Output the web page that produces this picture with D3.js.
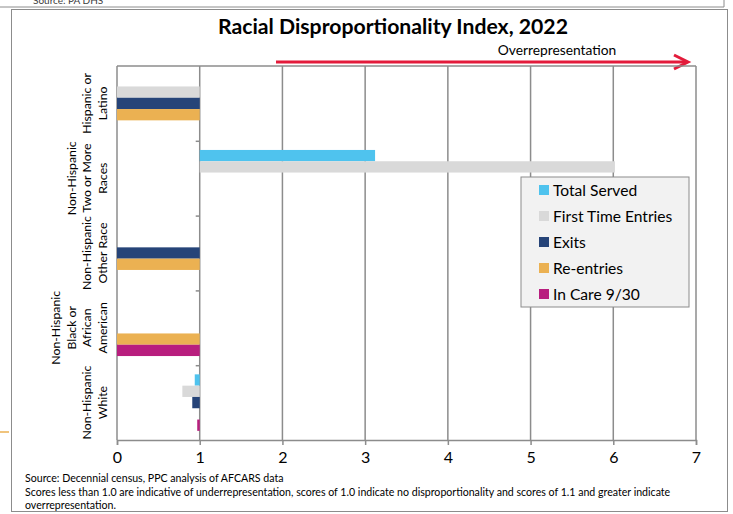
<!DOCTYPE html>
<html>
<head>
<meta charset="utf-8">
<script src="https://cdn.jsdelivr.net/npm/d3@7"></script>
<style>
  body { margin: 0; background: #fff; }
  svg { display: block; font-family: Lato, "Open Sans", sans-serif; }
</style>
</head>
<body>
<svg id="chart"></svg>
<script>
const chartSize = { width: 733, height: 514 };
const plot = { left: 117, right: 696, top: 66, bottom: 440 };

const categories = [
  "Hispanic or Latino",
  "Non-Hispanic Two or More Races",
  "Non-Hispanic Other Race",
  "Non-Hispanic Black or African American",
  "Non-Hispanic White"
];
const categoryLines = [
  ["Hispanic or", "Latino"],
  ["Non-Hispanic", "Two or More", "Races"],
  ["Non-Hispanic", "Other Race"],
  ["Non-Hispanic", "Black or", "African", "American"],
  ["Non-Hispanic", "White"]
];

const seriesNames = ["Total Served", "First Time Entries", "Exits", "Re-entries", "In Care 9/30"];
const seriesColors = ["#4fc3ee", "#d9d9d9", "#264478", "#ebb152", "#b81e7e"];

// null = no bar shown
const totalServed = [null, 3.12, null, null, 0.94];
const firstTimeEntries = [0, 6.02, null, null, 0.79];
const exits = [0, null, 0, null, 0.91];
const reEntries = [0, null, 0, 0, null];
const inCare = [null, null, null, 0, 0.97];
const seriesValues = [totalServed, firstTimeEntries, exits, reEntries, inCare];

const xTicks = [0, 1, 2, 3, 4, 5, 6, 7];
const crossAt = 1;

const svg = d3.select("#chart")
  .attr("width", chartSize.width)
  .attr("height", chartSize.height);

// outer frames
svg.append("line")
  .attr("x1", 0).attr("x2", 724).attr("y1", 7).attr("y2", 7)
  .attr("stroke", "#8c8c8c");
svg.append("line")
  .attr("x1", 724).attr("x2", 724).attr("y1", 0).attr("y2", 7)
  .attr("stroke", "#8c8c8c");
svg.append("text")
  .attr("x", 33).attr("y", 4)
  .attr("font-size", 10)
  .attr("fill", "#404040")
  .text("Source: PA DHS");
svg.append("rect")
  .attr("x", 11.5).attr("y", 9.5)
  .attr("width", 716).attr("height", 502)
  .attr("fill", "#fff")
  .attr("stroke", "#8c8c8c");
svg.append("line")
  .attr("x1", 0).attr("x2", 9).attr("y1", 432).attr("y2", 432)
  .attr("stroke", "#ebb152").attr("stroke-width", 1.5);

const x = d3.scaleLinear().domain([0, 7]).range([plot.left, plot.right]);
const y = d3.scaleBand().domain(categories).range([plot.top, plot.bottom]).paddingInner(0);
const ySeries = d3.scaleBand()
  .domain(seriesNames)
  .range([0, y.bandwidth()])
  .paddingInner(0)
  .paddingOuter(0.81);

// title
svg.append("text")
  .attr("x", 393).attr("y", 34)
  .attr("text-anchor", "middle")
  .attr("font-size", 21.2)
  .attr("font-weight", "bold")
  .attr("fill", "#000")
  .text("Racial Disproportionality Index, 2022");

// overrepresentation arrow
svg.append("text")
  .attr("x", 557).attr("y", 55)
  .attr("text-anchor", "middle")
  .attr("font-size", 13.8)
  .attr("fill", "#000")
  .text("Overrepresentation");
svg.append("line")
  .attr("x1", 276).attr("x2", 687).attr("y1", 62).attr("y2", 62)
  .attr("stroke", "#e31b3b").attr("stroke-width", 3);
svg.append("path")
  .attr("d", "M674,55 L688,62 L674,69")
  .attr("fill", "none")
  .attr("stroke", "#e31b3b").attr("stroke-width", 3);

// gridlines + plot border
svg.append("g")
  .selectAll("line")
  .data(xTicks)
  .join("line")
  .attr("x1", d => x(d)).attr("x2", d => x(d))
  .attr("y1", plot.top).attr("y2", plot.bottom)
  .attr("stroke", "#8c8c8c").attr("stroke-width", 1.5);
svg.append("line")
  .attr("x1", plot.left).attr("x2", plot.right)
  .attr("y1", plot.top).attr("y2", plot.top)
  .attr("stroke", "#8c8c8c").attr("stroke-width", 1.5);

// bars, drawn from the crossing value 1
const barData = [];
seriesValues.forEach((vals, s) => {
  vals.forEach((v, c) => {
    if (v !== null) barData.push({ cat: categories[c], series: seriesNames[s], color: seriesColors[s], value: v });
  });
});
svg.append("g")
  .selectAll("rect")
  .data(barData)
  .join("rect")
  .attr("x", d => x(Math.min(d.value, crossAt)))
  .attr("width", d => Math.abs(x(d.value) - x(crossAt)))
  .attr("y", d => y(d.cat) + ySeries(d.series))
  .attr("height", ySeries.bandwidth())
  .attr("fill", d => d.color);

// x axis at bottom
const xAxis = svg.append("g")
  .attr("transform", `translate(0,${plot.bottom})`)
  .call(d3.axisBottom(x).tickValues(xTicks).tickSize(5).tickPadding(7).tickFormat(d3.format("d")));
xAxis.select(".domain").attr("stroke", "#8c8c8c").attr("stroke-width", 1.5);
xAxis.selectAll(".tick line").attr("stroke", "#8c8c8c").attr("stroke-width", 1.5);
xAxis.selectAll(".tick text")
  .attr("font-family", "Lato, 'Open Sans', sans-serif")
  .attr("font-size", 16).attr("fill", "#000");

// category axis crossing at 1
const yAxis = svg.append("g")
  .attr("transform", `translate(${x(crossAt)},0)`)
  .call(d3.axisLeft(d3.scaleLinear().domain([0, categories.length]).range([plot.top, plot.bottom]))
    .tickValues(d3.range(1, categories.length)).tickSize(4).tickFormat(""));
yAxis.select(".domain").remove();
yAxis.selectAll(".tick line").attr("stroke", "#8c8c8c").attr("stroke-width", 1.5);

// rotated category labels
const labelGroups = svg.append("g")
  .selectAll("text")
  .data(categories)
  .join("text")
  .attr("transform", d => `translate(106.5,${y(d) + y.bandwidth() / 2}) rotate(-90)`)
  .attr("text-anchor", "middle")
  .attr("font-size", 12.3)
  .attr("fill", "#000");
labelGroups.each(function (d, i) {
  const lines = categoryLines[i];
  d3.select(this).selectAll("tspan")
    .data(lines)
    .join("tspan")
    .attr("x", 0)
    .attr("y", (l, j) => -(lines.length - 1 - j) * 15.5)
    .text(l => l);
});

// legend
const legend = svg.append("g").attr("transform", "translate(521,177)");
legend.append("rect")
  .attr("width", 168).attr("height", 130)
  .attr("fill", "#f2f2f2")
  .attr("stroke", "#8c8c8c");
const legendItems = legend.selectAll("g.item")
  .data(seriesNames)
  .join("g")
  .attr("class", "item")
  .attr("transform", (d, i) => `translate(18,${8 + i * 26})`);
legendItems.append("rect")
  .attr("width", 10).attr("height", 10)
  .attr("fill", (d, i) => seriesColors[i]);
legendItems.append("text")
  .attr("x", 14).attr("y", 10.5)
  .attr("font-size", 15.6)
  .attr("fill", "#000")
  .text(d => d);

// footnotes
const notes = [
  "Source: Decennial census, PPC analysis of AFCARS data",
  "Scores less than 1.0 are indicative of underrepresentation, scores of 1.0 indicate no disproportionality and scores of 1.1 and greater indicate",
  "overrepresentation."
];
svg.append("g")
  .selectAll("text")
  .data(notes)
  .join("text")
  .attr("x", 25)
  .attr("y", (d, i) => 482 + i * 13.5)
  .attr("font-size", 10.6)
  .attr("fill", "#000")
  .text(d => d);
</script>
</body>
</html>
